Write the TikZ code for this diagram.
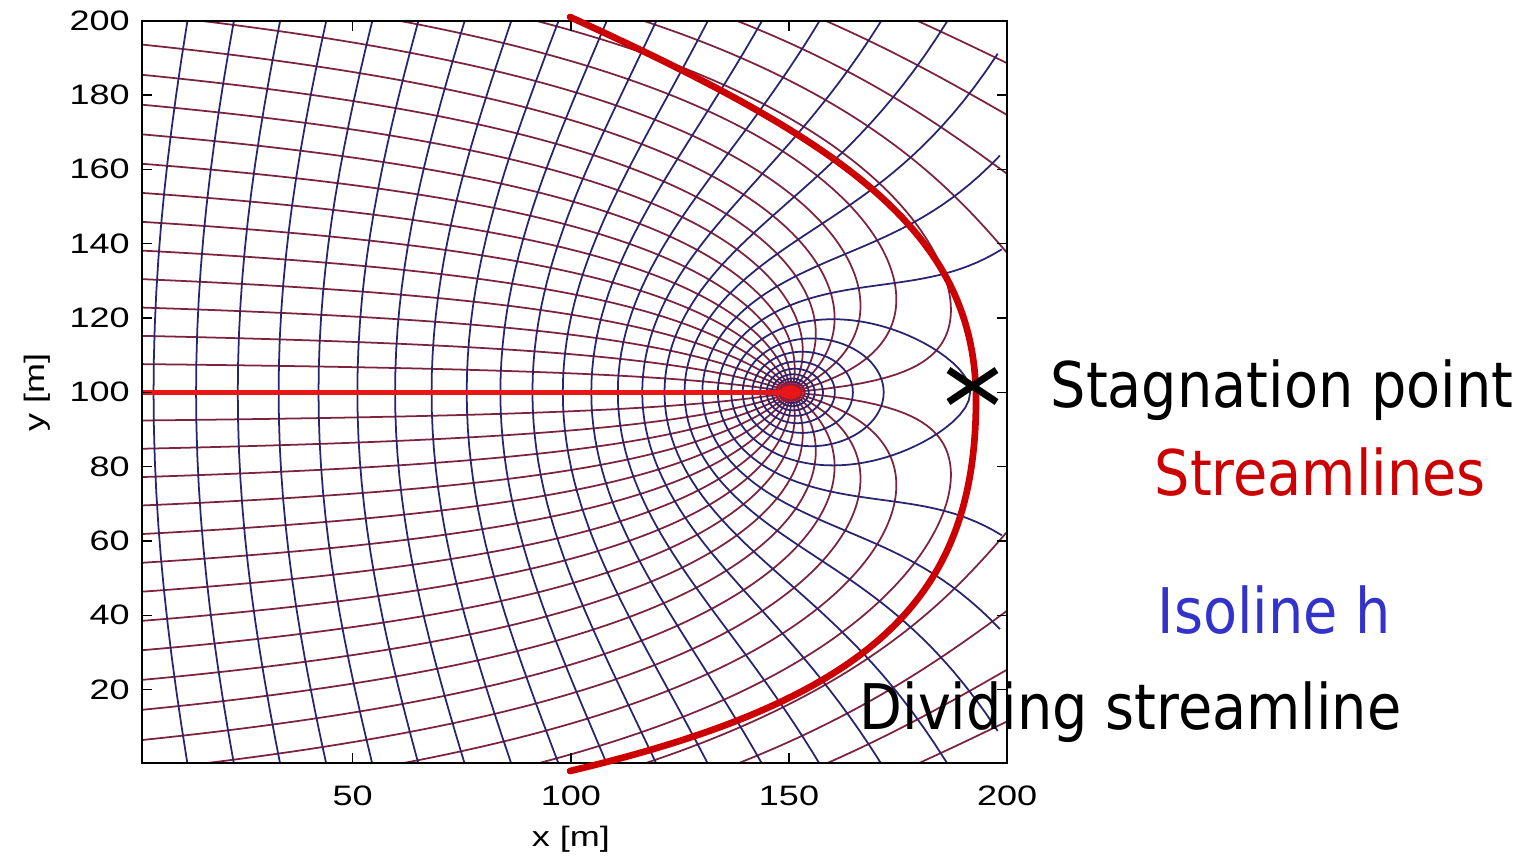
\documentclass[tikz,border=0pt]{standalone}
\usepackage{fontspec}
\setmainfont{DejaVu Sans}
\newfontfamily\tickfamily{Liberation Sans}
\usetikzlibrary{calc}

\definecolor{slcol}{RGB}{125,35,62}
\definecolor{isocol}{RGB}{40,36,112}
\definecolor{divred}{RGB}{204,0,0}
\definecolor{cutred}{RGB}{232,22,22}
\definecolor{txtred}{RGB}{204,0,0}
\definecolor{txtblue}{RGB}{51,51,204}

\def\Lw{50}
\def\Dpsi{10.13418}
\def\Dphi{13.19}
\def\Czero{-144.68}
\def\phis{-145.601}

\newcount\nitcount
% inner root r of  r cos(theta) - L ln r = C  ; #1 = C, #2 = theta (deg)
\def\solveR#1#2{%
  \pgfmathsetmacro\nwc{cos(#2)}%
  \pgfmathsetmacro\nwa{-(#1)/\Lw}%
  \ifdim\nwc pt>0.01pt
    \pgfmathsetmacro\nwcap{ln(\Lw/(\nwc))}%
    \pgfmathsetmacro\nwr{min(\nwa,\nwcap-0.5)}%
  \else
    \def\nwcap{8.5}%
    \let\nwr\nwa
  \fi
  \nitcount=0
  \loop
    \pgfmathsetmacro\nwe{exp(\nwr)*(\nwc)}%
    \pgfmathsetmacro\nwh{(\nwe)-\Lw*(\nwr)-(#1)}%
    \pgfmathsetmacro\nwd{min((\nwe)-\Lw,-0.05)}%
    \pgfmathsetmacro\nwr{min((\nwr)-(\nwh)/(\nwd),\nwcap)}%
    \advance\nitcount by 1
  \ifnum\nitcount<12 \repeat
  \pgfmathsetmacro\nwR{exp(\nwr)}%
}
\def\addpoint#1{%
  \solveR{\Clev}{#1}%
  \pgfmathsetmacro\Xv{\nwR*(\nwc)}%
  \pgfmathsetmacro\Sv{\nwR*sin(#1)}%
  \pgfmathsetmacro\Nv{-\nwR*sin(#1)}%
  \ifx\ptlist\empty
    \xdef\ptlist{(\Xv,\Sv)}%
  \else
    \xdef\ptlist{(\Xv,\Nv) -- \ptlist\space -- (\Xv,\Sv)}%
  \fi
}

\newcommand\tickfont{\tickfamily\fontsize{8pt}{9.6pt}\selectfont}
\newcommand\bigfont{\fontsize{17.9pt}{21pt}\selectfont}

\tikzset{
  sline/.style={slcol, line width=0.5pt, line join=round},
  hline/.style={isocol, line width=0.5pt, line join=round},
  tickmark/.style={black, line width=0.45pt},
  ticklab/.style={font=\tickfont, inner sep=0pt, xscale=1.28},
  bigtext/.style={font=\bigfont, inner sep=0pt, xscale=0.885, anchor=base west},
}

\begin{document}
\begin{tikzpicture}[x=0.01cm,y=-0.01cm]
\useasboundingbox (0,0) rectangle (1538,860);
\fill[white] (0,0) rectangle (1538,860);

% ---------- flow net (data frame centred on the well) ----------
\begin{scope}
\clip (141.7,20.7) rectangle (1007.1,762.7);
\begin{scope}[shift={(791.2,392.3)}, x=0.04362cm, y=0.03716cm]
  % streamlines
  \foreach \k in {12,...,30}{
    \pgfmathsetmacro\ps{157.0796-\k*\Dpsi}
    \pgfmathsetmacro\tlo{(\ps>0) ? (\ps/80) : (-(\ps)/\Lw+0.002)}
    \pgfmathsetmacro\thi{pi-((\ps)+\Lw*pi)/300}
    \draw[sline] plot[domain=\tlo:\thi, samples=160, variable=\t]
      ({((\ps)+\Lw*\t)*cot(deg(\t))}, {(\ps)+\Lw*\t});
    \draw[sline] plot[domain=\tlo:\thi, samples=160, variable=\t]
      ({((\ps)+\Lw*\t)*cot(deg(\t))}, {-((\ps)+\Lw*\t)});
  }
  % isolines of h
  \foreach \j in {-20,...,8}{
    \pgfmathsetmacro\Clev{\Czero+\j*\Dphi}
    \gdef\ptlist{}
    \ifdim\Clev pt>\phis pt
      \foreach \tha in {180,177,...,0}{\addpoint{\tha}}
    \else
      \pgfmathsetmacro\ths{acos(exp(((\Clev)-(\phis))/\Lw))}
      \foreach \n in {50,49,...,1}{
        \pgfmathsetmacro\tha{\ths+(180-\ths)*(\n/50)^2}
        \addpoint{\tha}}
    \fi
    \edef\tmp{\noexpand\draw[hline] \ptlist;}\tmp
  }
\end{scope}
\end{scope}

% thick red line along the branch cut and the well
\coordinate (leftend) at (141.7,392.3);
\coordinate (well) at (791.2,392.3);
\draw[cutred, line width=1.35pt] (leftend) -- (well);
\fill[cutred, opacity=0.5] ($(well)+(-2,0)$) ellipse[x radius=17, y radius=10];
\fill[cutred] ($(well)+(-1,0)$) ellipse[x radius=11, y radius=6.5];

% ---------- axes box and ticks ----------
\draw[black, line width=0.5pt] (141.7,20.7) rectangle (1007.1,762.7);
\foreach \xp/\lab in {352.7/50, 570.9/100, 789.0/150, 1007.1/200}{
  \draw[tickmark] (\xp,762.7) -- ++(0,-10);
  \draw[tickmark] (\xp,20.7) -- ++(0,10);
  \node[ticklab] (xt\lab) at (\xp,796) {\lab};
}
\foreach \yp/\lab in {689.6/20, 615.3/40, 540.9/60, 466.6/80, 392.3/100, 318.0/120, 243.7/140, 169.3/160, 95.0/180, 20.7/200}{
  \draw[tickmark] (141.7,\yp) -- ++(10,0);
  \draw[tickmark] (1007.1,\yp) -- ++(-10,0);
  \node[ticklab, anchor=east] (yt\lab) at (130.5,\yp) {\lab};
}
\node[ticklab] (xlab) at (571,839) {x [m]};
\node[font=\tickfont, inner sep=0pt, rotate=90, xscale=1.28] (ylab) at (37,392) {y [m]};

% ---------- dividing streamline ----------
\coordinate (dtop) at (570,17);
\coordinate (dnose) at (976,400);
\coordinate (dbot) at (570,771);
\draw[divred, line width=1.9pt, line cap=round]
  (dtop) .. controls (840,140) and (976,230) .. (dnose)
         .. controls (976,600) and (870,700) .. (dbot);

% stagnation point marker
\coordinate (sp) at (972.5,386);
\draw[black, line width=2pt] ($(sp)+(-24,-16)$) -- ($(sp)+(24,16)$);
\draw[black, line width=2pt] ($(sp)+(-24,16)$) -- ($(sp)+(24,-16)$);

% ---------- labels ----------
\node[bigtext] (tstag) at (1050,407) {Stagnation point};
\node[bigtext, text=txtred] (tstream) at (1154,495) {Streamlines};
\node[bigtext, text=txtblue] (tiso) at (1157,633) {Isoline h};
\node[bigtext] (tdiv) at (859,729) {Dividing streamline};
\end{tikzpicture}
\end{document}
